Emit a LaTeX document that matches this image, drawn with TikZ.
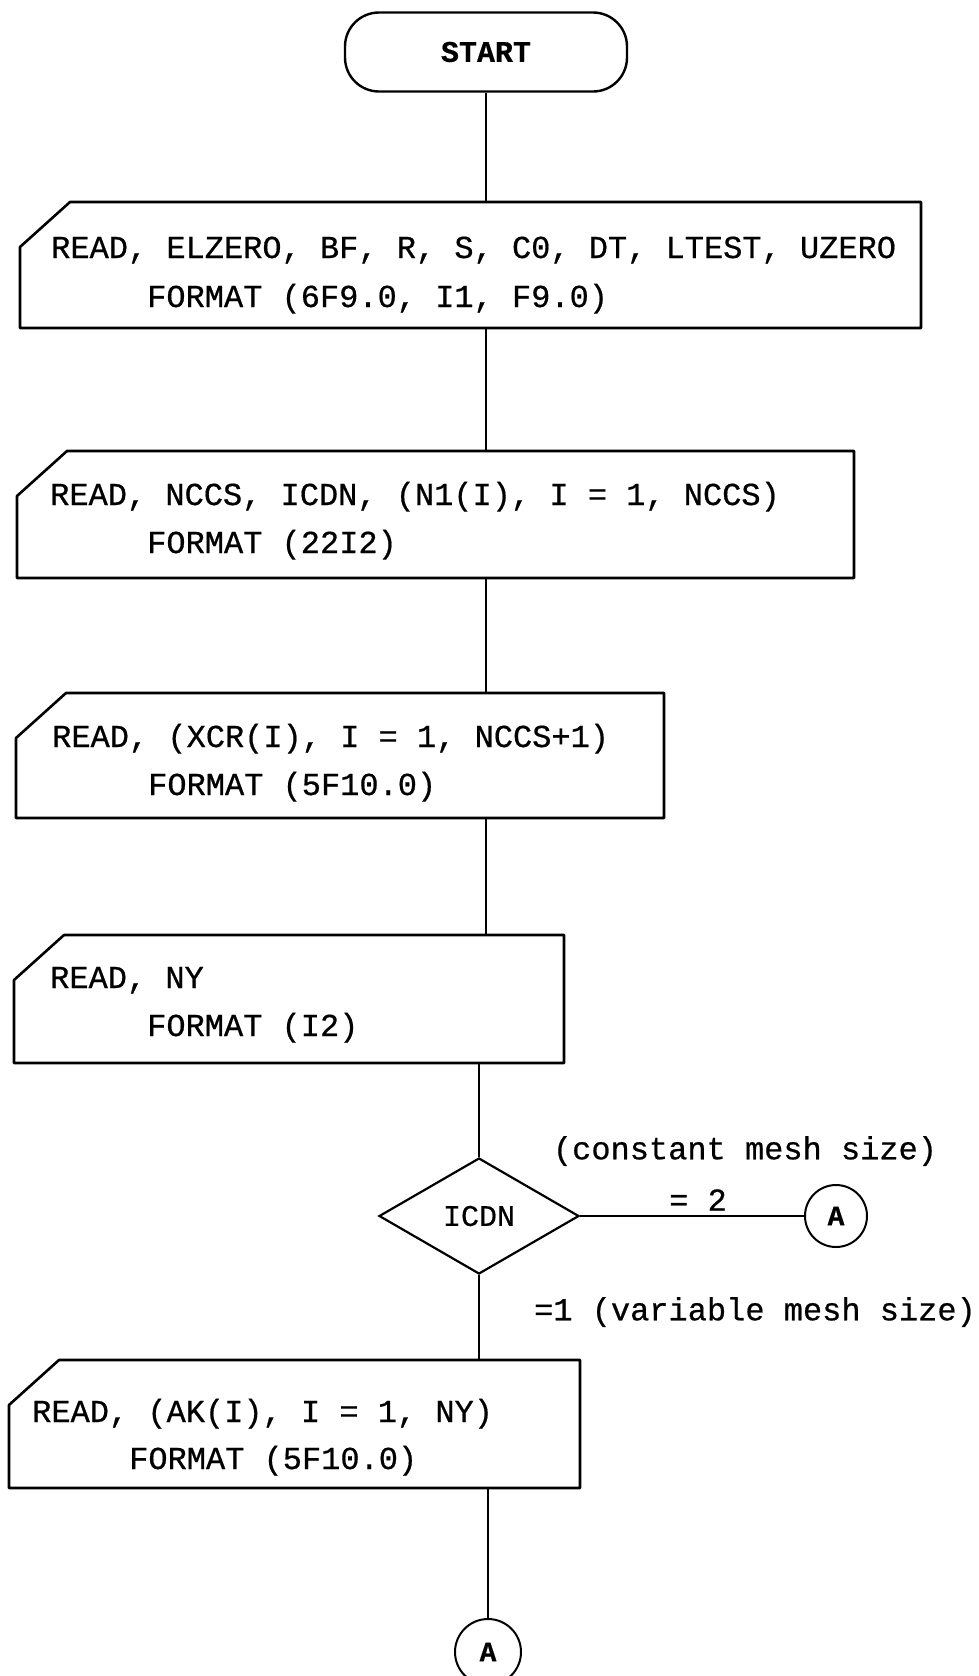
\documentclass[tikz,border=0pt]{standalone}
\usepackage{fontspec}
\setmonofont{Liberation Mono}[FakeBold=0.6]
\usepackage{tikz}
\usetikzlibrary{calc}
\usetikzlibrary{shapes.geometric}

% card outline with the cut top-left corner
\newcommand{\cardframe}[1]{%
	\draw[line width=2.6pt,line join=round] ([xshift=50pt]#1.north west)--(#1.north east)--(#1.south east)--(#1.south west)--([yshift=-45pt]#1.north west)--cycle;}

\begin{document}
\begin{tikzpicture}[x=1pt,y=-1pt,
	txt/.style={font=\ttfamily\fontsize{32}{38}\selectfont,inner sep=0pt,anchor=base west},
	card/.style={inner sep=0pt,outer sep=0pt},
	lbl/.style={font=\ttfamily\fontsize{32}{36}\selectfont,inner sep=0pt},
	link/.style={line width=1.8pt},
	conn/.style={circle,draw,line width=2pt,inner sep=0pt,font=\ttfamily\bfseries\fontsize{28}{32}\selectfont}]
	\useasboundingbox (0,0) rectangle (978,1676);

	\node[draw,line width=2.4pt,rounded corners=34pt,minimum width=282pt,minimum height=79pt,font=\ttfamily\bfseries\fontsize{30}{36}\selectfont] (start) at (486,52) {START};

	\node[card,minimum width=901pt,minimum height=126pt] (rd1) at (470.5,265) {};
	\cardframe{rd1}
	\node[txt] (rd1a) at (51,258) {READ, ELZERO, BF, R, S, C0, DT, LTEST, UZERO};
	\node[txt] (rd1b) at (147,307) {FORMAT (6F9.0, I1, F9.0)};

	\node[card,minimum width=837pt,minimum height=127pt] (rd2) at (435.5,514.5) {};
	\cardframe{rd2}
	\node[txt] (rd2a) at (50,505) {READ, NCCS, ICDN, (N1(I), I = 1, NCCS)};
	\node[txt] (rd2b) at (147,553) {FORMAT (22I2)};

	\node[card,minimum width=648pt,minimum height=125pt] (rd3) at (340,755.5) {};
	\cardframe{rd3}
	\node[txt] (rd3a) at (52,747) {READ, (XCR(I), I = 1, NCCS+1)};
	\node[txt] (rd3b) at (148,795) {FORMAT (5F10.0)};

	\node[card,minimum width=550pt,minimum height=128pt] (rd4) at (289,999) {};
	\cardframe{rd4}
	\node[txt] (rd4a) at (50,988) {READ, NY};
	\node[txt] (rd4b) at (147,1036) {FORMAT (I2)};

	\node[diamond,draw,line width=2.2pt,inner sep=0pt,minimum width=200pt,minimum height=116pt,font=\ttfamily\fontsize{30}{36}\selectfont] (icdn) at (479,1216) {ICDN};
	\node[conn,minimum size=62pt] (ca1) at (836,1216) {A};
	\node[lbl] (lconst) at (745,1151) {(constant mesh size)};
	\node[lbl] (ltwo) at (698,1200) {= 2};
	\node[lbl] (lvar) at (755,1312) {=1 (variable mesh size)};

	\node[card,minimum width=571pt,minimum height=128pt] (rd5) at (294.5,1424) {};
	\cardframe{rd5}
	\node[txt] (rd5a) at (32,1422) {READ, (AK(I), I = 1, NY)};
	\node[txt] (rd5b) at (129,1469) {FORMAT (5F10.0)};

	\node[conn,minimum size=66pt] (ca2) at (488,1652) {A};

	\draw[link] (start.south)--(start.south |- rd1.north);
	\draw[link] (start |- rd1.south)--(start |- rd2.north);
	\draw[link] (start |- rd2.south)--(start |- rd3.north);
	\draw[link] (start |- rd3.south)--(start |- rd4.north);
	\draw[link] (icdn |- rd4.south)--(icdn.north);
	\draw[link] (icdn.east)--(ca1.west);
	\draw[link] (icdn.south)--(icdn |- rd5.north);
	\draw[link] (ca2 |- rd5.south)--(ca2.north);
\end{tikzpicture}
\end{document}
